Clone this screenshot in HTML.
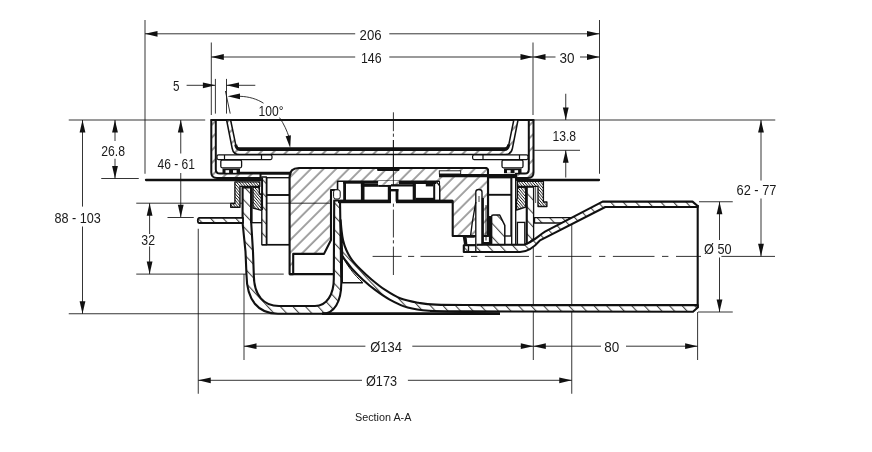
<!DOCTYPE html><html><head><meta charset="utf-8"><title>Section A-A</title><style>html,body{margin:0;padding:0;background:#fff}svg{display:block}text{font-family:"Liberation Sans",sans-serif;fill:#1a1a1a}svg{will-change:transform}</style></head><body>
<svg width="872" height="452" viewBox="0 0 872 452">
<rect width="872" height="452" fill="#fff"/>
<defs>
<pattern id="hb" width="8.9" height="8.9" patternUnits="userSpaceOnUse" patternTransform="rotate(-45) translate(0,6)"><line x1="0" y1="4" x2="8.9" y2="4" stroke="#111" stroke-width="0.78"/></pattern>
<pattern id="hw" width="9.2" height="9.2" patternUnits="userSpaceOnUse" patternTransform="rotate(47)"><line x1="0" y1="4" x2="9.2" y2="4" stroke="#111" stroke-width="0.85"/></pattern>
<pattern id="hf" width="9" height="9" patternUnits="userSpaceOnUse" patternTransform="rotate(-45)"><line x1="0" y1="4" x2="9" y2="4" stroke="#111" stroke-width="0.85"/></pattern>
<pattern id="hd" width="2.1" height="2.1" patternUnits="userSpaceOnUse" patternTransform="rotate(50)"><line x1="0" y1="1" x2="2.1" y2="1" stroke="#111" stroke-width="0.75"/></pattern>
</defs>
<line x1="145" y1="20" x2="145" y2="173.75" stroke="#111" stroke-width="0.85" />
<line x1="599.5" y1="20" x2="599.5" y2="173.75" stroke="#111" stroke-width="0.85" />
<line x1="211.3" y1="42.5" x2="211.3" y2="115" stroke="#111" stroke-width="0.85" />
<line x1="533" y1="42.5" x2="533" y2="115" stroke="#111" stroke-width="0.85" />
<line x1="215.4" y1="78.9" x2="215.4" y2="113.6" stroke="#111" stroke-width="0.85" />
<line x1="226.5" y1="78.9" x2="226.5" y2="113.6" stroke="#111" stroke-width="0.85" />
<line x1="225.4" y1="91" x2="230.2" y2="113.6" stroke="#111" stroke-width="0.85" />
<line x1="145" y1="33.8" x2="355.2" y2="33.8" stroke="#111" stroke-width="0.85" />
<line x1="389.3" y1="33.8" x2="599.5" y2="33.8" stroke="#111" stroke-width="0.85" />
<polygon points="145.00,33.80 157.50,30.90 157.50,36.70" fill="#111"/>
<polygon points="599.50,33.80 587.00,30.90 587.00,36.70" fill="#111"/>
<text x="359.6" y="40" font-size="14.6" textLength="22.0" lengthAdjust="spacingAndGlyphs">206</text>
<line x1="211.3" y1="57" x2="355.2" y2="57" stroke="#111" stroke-width="0.85" />
<line x1="389.3" y1="57" x2="533" y2="57" stroke="#111" stroke-width="0.85" />
<polygon points="211.30,57.00 223.80,54.10 223.80,59.90" fill="#111"/>
<polygon points="533.00,57.00 520.50,54.10 520.50,59.90" fill="#111"/>
<text x="361" y="63" font-size="14.6" textLength="20.6" lengthAdjust="spacingAndGlyphs">146</text>
<line x1="533" y1="57" x2="555.5" y2="57" stroke="#111" stroke-width="0.85" />
<line x1="580" y1="57" x2="599.5" y2="57" stroke="#111" stroke-width="0.85" />
<polygon points="533.00,57.00 545.50,54.10 545.50,59.90" fill="#111"/>
<polygon points="599.50,57.00 587.00,54.10 587.00,59.90" fill="#111"/>
<text x="559.5" y="63" font-size="14.6" textLength="15.0" lengthAdjust="spacingAndGlyphs">30</text>
<line x1="186.6" y1="85.3" x2="215" y2="85.3" stroke="#111" stroke-width="0.85" />
<polygon points="215.40,85.30 202.90,82.40 202.90,88.20" fill="#111"/>
<line x1="226.5" y1="85.3" x2="255.3" y2="85.3" stroke="#111" stroke-width="0.85" />
<polygon points="226.50,85.30 239.00,82.40 239.00,88.20" fill="#111"/>
<text x="172.9" y="91" font-size="14.6" textLength="6.5" lengthAdjust="spacingAndGlyphs">5</text>
<polygon points="227.50,96.30 240.00,93.40 240.00,99.20" fill="#111"/>
<path d="M240,96.3 C249,96.6 257,99 263.5,103.2" stroke="#111" stroke-width="0.85" fill="none" />
<path d="M279.5,117.6 C284,124 287,131 289,137" stroke="#111" stroke-width="0.85" fill="none" />
<polygon points="290.2,148 285.6,136.3 290.9,135.2" fill="#111"/>
<text x="258.5" y="116" font-size="14.6" textLength="25.0" lengthAdjust="spacingAndGlyphs">100°</text>
<line x1="68.75" y1="120" x2="205.2" y2="120" stroke="#111" stroke-width="0.85" />
<line x1="533.75" y1="120" x2="775.25" y2="120" stroke="#111" stroke-width="0.85" />
<line x1="82.5" y1="120" x2="82.5" y2="206.6" stroke="#111" stroke-width="0.85" />
<line x1="82.5" y1="226.5" x2="82.5" y2="313.75" stroke="#111" stroke-width="0.85" />
<polygon points="82.50,120.00 79.60,132.50 85.40,132.50" fill="#111"/>
<polygon points="82.50,313.75 79.60,301.25 85.40,301.25" fill="#111"/>
<text x="54.4" y="222.7" font-size="14.6" textLength="46.4" lengthAdjust="spacingAndGlyphs">88 - 103</text>
<line x1="115" y1="120" x2="115" y2="141" stroke="#111" stroke-width="0.85" />
<line x1="115" y1="158.75" x2="115" y2="178.5" stroke="#111" stroke-width="0.85" />
<polygon points="115.00,120.00 112.10,132.50 117.90,132.50" fill="#111"/>
<polygon points="115.00,178.50 112.10,166.00 117.90,166.00" fill="#111"/>
<line x1="101.25" y1="178.5" x2="138.75" y2="178.5" stroke="#111" stroke-width="0.85" />
<text x="101.2" y="155.6" font-size="14.6" textLength="23.8" lengthAdjust="spacingAndGlyphs">26.8</text>
<line x1="180.75" y1="120" x2="180.75" y2="153.5" stroke="#111" stroke-width="0.85" />
<line x1="180.75" y1="173" x2="180.75" y2="217" stroke="#111" stroke-width="0.85" />
<polygon points="180.75,120.00 177.85,132.50 183.65,132.50" fill="#111"/>
<polygon points="180.75,217.30 177.85,204.80 183.65,204.80" fill="#111"/>
<text x="157.5" y="168.7" font-size="14.6" textLength="37.5" lengthAdjust="spacingAndGlyphs">46 - 61</text>
<line x1="167.5" y1="217.5" x2="193.75" y2="217.5" stroke="#111" stroke-width="0.85" />
<line x1="136.25" y1="203.2" x2="331" y2="203.2" stroke="#111" stroke-width="0.85" />
<line x1="136.25" y1="274.1" x2="283.75" y2="274.1" stroke="#111" stroke-width="0.85" />
<line x1="149.6" y1="203.2" x2="149.6" y2="234" stroke="#111" stroke-width="0.85" />
<line x1="149.6" y1="246.4" x2="149.6" y2="274.1" stroke="#111" stroke-width="0.85" />
<polygon points="149.60,203.20 146.70,215.70 152.50,215.70" fill="#111"/>
<polygon points="149.60,274.10 146.70,261.60 152.50,261.60" fill="#111"/>
<text x="141.3" y="245" font-size="14.6" textLength="13.7" lengthAdjust="spacingAndGlyphs">32</text>
<line x1="68.75" y1="313.75" x2="325" y2="313.75" stroke="#111" stroke-width="0.85" />
<line x1="565.75" y1="93.75" x2="565.75" y2="120" stroke="#111" stroke-width="0.85" />
<polygon points="565.75,120.00 562.85,107.50 568.65,107.50" fill="#111"/>
<line x1="565.75" y1="150.3" x2="565.75" y2="177.5" stroke="#111" stroke-width="0.85" />
<polygon points="565.75,150.30 562.85,162.80 568.65,162.80" fill="#111"/>
<line x1="534.2" y1="150.3" x2="580" y2="150.3" stroke="#111" stroke-width="0.85" />
<text x="552.4" y="141.2" font-size="14.6" textLength="23.7" lengthAdjust="spacingAndGlyphs">13.8</text>
<line x1="761" y1="120" x2="761" y2="180.5" stroke="#111" stroke-width="0.85" />
<line x1="761" y1="198.5" x2="761" y2="256.3" stroke="#111" stroke-width="0.85" />
<polygon points="761.00,120.00 758.10,132.50 763.90,132.50" fill="#111"/>
<polygon points="761.00,256.30 758.10,243.80 763.90,243.80" fill="#111"/>
<text x="736.5" y="194.5" font-size="14.6" textLength="40.0" lengthAdjust="spacingAndGlyphs">62 - 77</text>
<line x1="699" y1="201.75" x2="732.75" y2="201.75" stroke="#111" stroke-width="0.85" />
<line x1="698" y1="312" x2="732.75" y2="312" stroke="#111" stroke-width="0.85" />
<line x1="719.5" y1="201.75" x2="719.5" y2="240" stroke="#111" stroke-width="0.85" />
<line x1="719.5" y1="257.5" x2="719.5" y2="312" stroke="#111" stroke-width="0.85" />
<polygon points="719.50,201.75 716.60,214.25 722.40,214.25" fill="#111"/>
<polygon points="719.50,312.00 716.60,299.50 722.40,299.50" fill="#111"/>
<text x="704" y="253.7" font-size="14.6" textLength="27.5" lengthAdjust="spacingAndGlyphs">Ø 50</text>
<line x1="372.6" y1="256.4" x2="401.6" y2="256.4" stroke="#111" stroke-width="0.85" />
<line x1="408" y1="256.4" x2="414.2" y2="256.4" stroke="#111" stroke-width="0.85" />
<line x1="420.5" y1="256.4" x2="463.4" y2="256.4" stroke="#111" stroke-width="0.85" />
<line x1="471" y1="256.4" x2="477.3" y2="256.4" stroke="#111" stroke-width="0.85" />
<line x1="484.9" y1="256.4" x2="529" y2="256.4" stroke="#111" stroke-width="0.85" />
<line x1="535.3" y1="256.4" x2="541.6" y2="256.4" stroke="#111" stroke-width="0.85" />
<line x1="548" y1="256.4" x2="591.4" y2="256.4" stroke="#111" stroke-width="0.85" />
<line x1="599" y1="256.4" x2="605.3" y2="256.4" stroke="#111" stroke-width="0.85" />
<line x1="612.9" y1="256.4" x2="654.5" y2="256.4" stroke="#111" stroke-width="0.85" />
<line x1="662" y1="256.4" x2="668.4" y2="256.4" stroke="#111" stroke-width="0.85" />
<line x1="676" y1="256.4" x2="701" y2="256.4" stroke="#111" stroke-width="0.85" />
<line x1="721.4" y1="256.4" x2="775" y2="256.4" stroke="#111" stroke-width="0.85" />
<line x1="393.4" y1="112.3" x2="393.4" y2="131.2" stroke="#111" stroke-width="0.85" />
<line x1="393.4" y1="133.6" x2="393.4" y2="136.8" stroke="#111" stroke-width="0.85" />
<line x1="393.4" y1="140" x2="393.4" y2="186" stroke="#111" stroke-width="0.85" />
<line x1="393.4" y1="203.6" x2="393.4" y2="206.8" stroke="#111" stroke-width="0.85" />
<line x1="393.4" y1="209.6" x2="393.4" y2="237.5" stroke="#111" stroke-width="0.85" />
<line x1="393.4" y1="240.2" x2="393.4" y2="243.4" stroke="#111" stroke-width="0.85" />
<line x1="393.4" y1="246.6" x2="393.4" y2="275" stroke="#111" stroke-width="0.85" />
<line x1="198.25" y1="228.75" x2="198.25" y2="393.75" stroke="#111" stroke-width="0.85" />
<line x1="244" y1="274" x2="244" y2="360" stroke="#111" stroke-width="0.85" />
<line x1="533.3" y1="238" x2="533.3" y2="360" stroke="#111" stroke-width="0.85" />
<line x1="571.75" y1="222.5" x2="571.75" y2="393.75" stroke="#111" stroke-width="0.85" />
<line x1="697.6" y1="312" x2="697.6" y2="360" stroke="#111" stroke-width="0.85" />
<line x1="244" y1="346.2" x2="365.4" y2="346.2" stroke="#111" stroke-width="0.85" />
<line x1="412.3" y1="346.2" x2="533.3" y2="346.2" stroke="#111" stroke-width="0.85" />
<polygon points="244.00,346.20 256.50,343.30 256.50,349.10" fill="#111"/>
<polygon points="533.30,346.20 520.80,343.30 520.80,349.10" fill="#111"/>
<text x="370.3" y="352" font-size="14.6" textLength="31.6" lengthAdjust="spacingAndGlyphs">Ø134</text>
<line x1="533.3" y1="346.2" x2="601" y2="346.2" stroke="#111" stroke-width="0.85" />
<line x1="626" y1="346.2" x2="697.6" y2="346.2" stroke="#111" stroke-width="0.85" />
<polygon points="533.30,346.20 545.80,343.30 545.80,349.10" fill="#111"/>
<polygon points="697.60,346.20 685.10,343.30 685.10,349.10" fill="#111"/>
<text x="604.3" y="352.4" font-size="14.6" textLength="15.0" lengthAdjust="spacingAndGlyphs">80</text>
<line x1="198.25" y1="380.3" x2="362" y2="380.3" stroke="#111" stroke-width="0.85" />
<line x1="407.9" y1="380.3" x2="571.75" y2="380.3" stroke="#111" stroke-width="0.85" />
<polygon points="198.25,380.30 210.75,377.40 210.75,383.20" fill="#111"/>
<polygon points="571.75,380.30 559.25,377.40 559.25,383.20" fill="#111"/>
<text x="366" y="385.7" font-size="14.6" textLength="31" lengthAdjust="spacingAndGlyphs">Ø173</text>
<text x="355" y="420.5" font-size="11.7" textLength="56.4" lengthAdjust="spacingAndGlyphs">Section A-A</text>
<line x1="146" y1="180" x2="262" y2="180" stroke="#111" stroke-width="2.3" stroke-linecap="round"/>
<line x1="517" y1="180" x2="599" y2="180" stroke="#111" stroke-width="2.3" stroke-linecap="round"/>
<path d="M242.6,187.4 L242.6,223 L245.5,251.7 L246.5,275 C246.8,300 258,313.7 278,313.7 L322.5,313.7 C334,313.7 341.3,302 341.3,283 L340,200.5 L334.2,200.5 L333.8,279 C333.8,294 327,306 315,306 L279,306 C264,306 254,296 253.8,275 L253,251.7 L251.2,222.7 L251.2,187.4 Z" fill="#fff" stroke="none"/>
<path d="M242.6,187.4 L242.6,223 L245.5,251.7 L246.5,275 C246.8,300 258,313.7 278,313.7 L322.5,313.7 C334,313.7 341.3,302 341.3,283 L340,200.5 L334.2,200.5 L333.8,279 C333.8,294 327,306 315,306 L279,306 C264,306 254,296 253.8,275 L253,251.7 L251.2,222.7 L251.2,187.4 Z" fill="url(#hw)" stroke="#111" stroke-width="2.1" stroke-linejoin="round"/>
<line x1="251.2" y1="222.7" x2="262" y2="222.7" stroke="#111" stroke-width="1.35" />
<path d="M340.6,220 C340.75,221.67 341.10,226.67 341.5,230 C341.90,233.33 342.20,236.67 343,240 C343.80,243.33 344.82,246.70 346.3,250 C347.78,253.30 349.47,256.50 351.9,259.8 C354.33,263.10 357.58,266.48 360.9,269.8 C364.22,273.12 367.82,276.38 371.8,279.7 C375.78,283.02 379.98,286.55 384.8,289.7 C389.62,292.85 395.08,296.42 400.7,298.6 C406.32,300.78 412.62,301.80 418.5,302.8 C424.38,303.80 425.75,304.22 436,304.6 C446.25,304.98 472.67,305.02 480,305.1 L697.7,305 L697.7,307.5 L693,311.7 L470,311.4 L470,311.4 C463.17,311.30 439.38,311.43 429,310.8 C418.62,310.17 414.25,309.47 407.7,307.6 C401.15,305.73 395.18,302.58 389.7,299.6 C384.22,296.62 379.27,293.02 374.8,289.7 C370.33,286.38 366.55,283.02 362.9,279.7 C359.25,276.38 355.88,273.12 352.9,269.8 C349.92,266.48 346.77,262.13 345,259.8 C343.23,257.47 342.75,256.47 342.3,255.8 Z" fill="#fff" stroke="none"/>
<path d="M340.6,220 C340.75,221.67 341.10,226.67 341.5,230 C341.90,233.33 342.20,236.67 343,240 C343.80,243.33 344.82,246.70 346.3,250 C347.78,253.30 349.47,256.50 351.9,259.8 C354.33,263.10 357.58,266.48 360.9,269.8 C364.22,273.12 367.82,276.38 371.8,279.7 C375.78,283.02 379.98,286.55 384.8,289.7 C389.62,292.85 395.08,296.42 400.7,298.6 C406.32,300.78 412.62,301.80 418.5,302.8 C424.38,303.80 425.75,304.22 436,304.6 C446.25,304.98 472.67,305.02 480,305.1 L697.7,305 L697.7,307.5 L693,311.7 L470,311.4 L470,311.4 C463.17,311.30 439.38,311.43 429,310.8 C418.62,310.17 414.25,309.47 407.7,307.6 C401.15,305.73 395.18,302.58 389.7,299.6 C384.22,296.62 379.27,293.02 374.8,289.7 C370.33,286.38 366.55,283.02 362.9,279.7 C359.25,276.38 355.88,273.12 352.9,269.8 C349.92,266.48 346.77,262.13 345,259.8 C343.23,257.47 342.75,256.47 342.3,255.8 Z" fill="url(#hw)" stroke="#111" stroke-width="2.1" stroke-linejoin="round"/>
<line x1="322" y1="313.6" x2="500" y2="313.6" stroke="#111" stroke-width="2.6" />
<path d="M430,311.5 L500,313.4" stroke="#111" stroke-width="1.2" fill="none" />
<path d="M342.3,255.8 L342.3,282.7 L362.9,282.7" stroke="#111" stroke-width="1.35" fill="none" />
<path d="M342.3,255.8 C346,264 354,275 362.9,282.7" stroke="#111" stroke-width="1.0" fill="none" />
<path d="M534.5,217.6 L571.6,217.6 L562,223 L534.5,223 Z" fill="#fff" stroke="none"/>
<path d="M534.5,217.6 L571.6,217.6 L562,223 L534.5,223 Z" fill="url(#hw)" stroke="#111" stroke-width="1.35" stroke-linejoin="round"/>
<path d="M526.7,187 L533.6,187 L533.6,238.5 L526.7,244.7 Z" fill="#fff" stroke="none"/>
<path d="M526.7,187 L533.6,187 L533.6,238.5 L526.7,244.7 Z" fill="url(#hw)" stroke="#111" stroke-width="1.35" stroke-linejoin="round"/>
<path d="M463.8,245.2 L463.8,252 L520,252 C528,252 533.5,248 540,240.4 L605.3,207 L697.7,207 L697.7,206 L692.5,201.6 L602.6,201.6 L545,231.6 C538,236 533,242 524,244.7 L476.8,244.7 L476.8,245.2 Z" fill="#fff" stroke="none"/>
<path d="M463.8,245.2 L463.8,252 L520,252 C528,252 533.5,248 540,240.4 L605.3,207 L697.7,207 L697.7,206 L692.5,201.6 L602.6,201.6 L545,231.6 C538,236 533,242 524,244.7 L476.8,244.7 L476.8,245.2 Z" fill="url(#hw)" stroke="#111" stroke-width="2.1" stroke-linejoin="round"/>
<line x1="697.7" y1="205" x2="697.7" y2="308" stroke="#111" stroke-width="2.1" />
<path d="M199.5,217.8 L243,217.8 L243,223 L199.5,223 Q197.8,223 197.8,220.4 Q197.8,217.8 199.5,217.8 Z" fill="#fff" stroke="none"/>
<path d="M199.5,217.8 L243,217.8 L243,223 L199.5,223 Q197.8,223 197.8,220.4 Q197.8,217.8 199.5,217.8 Z" fill="url(#hw)" stroke="#111" stroke-width="1.8" stroke-linejoin="round"/>
<rect x="266.8" y="177.7" width="22.8" height="66.9" rx="0" stroke="#111" stroke-width="1.35" fill="#fff" />
<line x1="266.8" y1="195" x2="289.6" y2="195" stroke="#111" stroke-width="1.9" />
<rect x="488.4" y="177.7" width="22.6" height="58.3" rx="0" stroke="#111" stroke-width="1.35" fill="#fff" />
<line x1="488.4" y1="194.8" x2="511" y2="194.8" stroke="#111" stroke-width="1.9" />
<path d="M261.8,177 L266.4,177 L266.4,244.8 L261.8,244.8 Z" fill="#fff" stroke="none"/>
<path d="M261.8,177 L266.4,177 L266.4,244.8 L261.8,244.8 Z" fill="url(#hw)" stroke="#111" stroke-width="1.35" stroke-linejoin="round"/>
<line x1="262" y1="244.8" x2="290" y2="244.8" stroke="#111" stroke-width="1.35" />
<path d="M289.6,274.1 L289.6,177 Q289.6,168 299,168 L486.5,168 L488,169.5 L488,236 L452.7,236 L452.7,201 L439,201 L439,181.6 L337.8,181.6 L337.8,190 L331,190 L331,240 L324,253.9 L293.2,253.9 L293.2,274.1 Z" fill="#fff" stroke="none"/>
<path d="M289.6,274.1 L289.6,177 Q289.6,168 299,168 L486.5,168 L488,169.5 L488,236 L452.7,236 L452.7,201 L439,201 L439,181.6 L337.8,181.6 L337.8,190 L331,190 L331,240 L324,253.9 L293.2,253.9 L293.2,274.1 Z" fill="url(#hb)" stroke="#111" stroke-width="2.1" stroke-linejoin="round"/>
<line x1="289.6" y1="274.1" x2="334.2" y2="274.1" stroke="#111" stroke-width="2.1" />
<rect x="377" y="168.5" width="22.5" height="2.6" rx="1.3" fill="#111"/>
<rect x="439.3" y="170.8" width="21.4" height="3.2" rx="0" stroke="#111" stroke-width="0.9" fill="#fff" />
<line x1="439" y1="175.6" x2="517" y2="175.6" stroke="#111" stroke-width="3.2" />
<line x1="239.3" y1="173.3" x2="291.3" y2="173.3" stroke="#111" stroke-width="3.0" />
<rect x="338.4" y="182" width="100.6" height="19" fill="#fff"/>
<rect x="338" y="199.6" width="53" height="3.6" fill="#111"/>
<rect x="396" y="199.6" width="56.7" height="3.6" fill="#111"/>
<rect x="343.2" y="181.2" width="35.0" height="2.5" fill="#111"/>
<rect x="343.2" y="181.2" width="2.8" height="18.8" fill="#111"/>
<rect x="360.9" y="181.2" width="3.6" height="18.8" fill="#111"/>
<rect x="360.9" y="183.7" width="17.3" height="3.1" fill="#111"/>
<rect x="378.2" y="184.8" width="12.8" height="2.1" fill="#111"/>
<rect x="387.8" y="184.8" width="3.2" height="18.2" fill="#111"/>
<rect x="391" y="189" width="7.4" height="2.4" fill="#111"/>
<rect x="395.6" y="189" width="2.8" height="12.6" fill="#111"/>
<rect x="378.2" y="181" width="21" height="3.8" fill="#fff"/><rect x="378.2" y="181" width="21" height="3.8" fill="url(#hb)"/>
<rect x="391" y="184.2" width="22" height="2.3" fill="#111"/>
<rect x="399" y="181.2" width="37.4" height="2.8" fill="#111"/>
<rect x="412.7" y="181.2" width="3.2" height="18.8" fill="#111"/>
<rect x="425.8" y="184" width="7.4" height="2.4" fill="#111"/>
<rect x="433.2" y="181.2" width="2.0" height="17.0" fill="#111"/>
<rect x="415.9" y="197.8" width="19.3" height="2.2" fill="#111"/>
<path d="M436.4,181.6 L439.8,186 L439.8,200" stroke="#111" stroke-width="1.3" fill="none" />
<rect x="333.6" y="189.8" width="6.6" height="9.2" rx="2.2" stroke="#111" stroke-width="1.0" fill="#fff" />
<path d="M475.8,252 L475.8,192 Q475.8,189.5 478.9,189.5 Q482,189.5 482,192 L482,244.5 L476.8,244.5" stroke="#111" stroke-width="1.35" fill="#fff" />
<path d="M475.8,202 L472.2,223 L470.5,236.4" stroke="#111" stroke-width="1.35" fill="none" />
<line x1="479" y1="196" x2="479" y2="202" stroke="#111" stroke-width="0.8" />
<path d="M482.8,198 L482.8,243.2 L490,243.2 L490,216" stroke="#111" stroke-width="2.2" fill="none" />
<line x1="486" y1="205" x2="486" y2="240.5" stroke="#111" stroke-width="0.9" />
<path d="M491.6,244.4 L491.6,216.5 Q491.6,215 493.2,215 L499.7,215 L504.8,225.4 L504.8,244.4 Z" fill="#fff" stroke="none"/>
<path d="M491.6,244.4 L491.6,216.5 Q491.6,215 493.2,215 L499.7,215 L504.8,225.4 L504.8,244.4 Z" fill="url(#hw)" stroke="#111" stroke-width="1.5" stroke-linejoin="round"/>
<rect x="511.7" y="177.5" width="4.0" height="66.9" rx="0" stroke="#111" stroke-width="1.35" fill="#fff" />
<rect x="517.4" y="222.4" width="7.4" height="22.0" rx="0" stroke="#111" stroke-width="1.35" fill="#fff" />
<line x1="526.7" y1="187" x2="526.7" y2="244.4" stroke="#111" stroke-width="2.0" />
<polygon points="462.8,237 466.6,237 467.4,244.4 464,244.4" fill="#111"/>
<path d="M466.6,237 L474.7,237 M464,245 L475.8,245 M468.5,245.2 L468.5,252" stroke="#111" stroke-width="1.35" fill="none" />
<path d="M234.9,181.8 L259.8,181.8 L259.8,186.4 L240,186.4 L240,203.5 L240,207.2 L230.7,207.2 L230.7,203.5 L234.9,203.5 Z" fill="#fff" stroke="none"/>
<path d="M234.9,181.8 L259.8,181.8 L259.8,186.4 L240,186.4 L240,203.5 L240,207.2 L230.7,207.2 L230.7,203.5 L234.9,203.5 Z" fill="url(#hd)" stroke="#111" stroke-width="1.35" stroke-linejoin="round"/>
<path d="M253,187.4 L259.4,187.4 L259.4,194 L261.4,194 L261.4,210.3 L253,208 Z" fill="#fff" stroke="none"/>
<path d="M253,187.4 L259.4,187.4 L259.4,194 L261.4,194 L261.4,210.3 L253,208 Z" fill="url(#hd)" stroke="#111" stroke-width="1.35" stroke-linejoin="round"/>
<line x1="251.3" y1="187" x2="251.3" y2="223" stroke="#111" stroke-width="2.4" />
<line x1="262.4" y1="178" x2="262.4" y2="210" stroke="#111" stroke-width="1.3" />
<path d="M517.4,181.4 L543.4,181.4 L543.4,202 L546.9,202 L546.9,206.5 L538,206.5 L538,186.4 L517.4,186.4 Z" fill="#fff" stroke="none"/>
<path d="M517.4,181.4 L543.4,181.4 L543.4,202 L546.9,202 L546.9,206.5 L538,206.5 L538,186.4 L517.4,186.4 Z" fill="url(#hd)" stroke="#111" stroke-width="1.35" stroke-linejoin="round"/>
<path d="M517.4,187.4 L525.7,187.4 L525.7,207 L516.5,210 L516.5,200 L517.4,198 Z" fill="#fff" stroke="none"/>
<path d="M517.4,187.4 L525.7,187.4 L525.7,207 L516.5,210 L516.5,200 L517.4,198 Z" fill="url(#hd)" stroke="#111" stroke-width="1.35" stroke-linejoin="round"/>
<line x1="535.6" y1="187" x2="535.6" y2="203" stroke="#444" stroke-width="0.9" />
<path d="M211.3,120 L211.3,172.5 Q211.3,178 217,178 L260.5,178 L260.5,173.6 L220,173.6 Q215.8,173.6 215.8,169.5 L215.8,120 Z" fill="#fff" stroke="none"/>
<path d="M211.3,120 L211.3,172.5 Q211.3,178 217,178 L260.5,178 L260.5,173.6 L220,173.6 Q215.8,173.6 215.8,169.5 L215.8,120 Z" fill="url(#hf)" stroke="#111" stroke-width="2.0" stroke-linejoin="round"/>
<path d="M533.5,120 L533.5,172.5 Q533.5,178 528,178 L516,178 L516,173.6 L525,173.6 Q528.8,173.6 528.8,169.5 L528.8,120 Z" fill="#fff" stroke="none"/>
<path d="M533.5,120 L533.5,172.5 Q533.5,178 528,178 L516,178 L516,173.6 L525,173.6 Q528.8,173.6 528.8,169.5 L528.8,120 Z" fill="url(#hf)" stroke="#111" stroke-width="2.0" stroke-linejoin="round"/>
<line x1="210.6" y1="120" x2="534.2" y2="120" stroke="#111" stroke-width="2.0" />
<path d="M226.6,120 L232.2,148.5 Q233.4,154.6 239.4,154.6 L505,154.6 Q511.2,154.6 512.4,148.5 L518,120 L513.8,120 L508.8,144.6 Q508,148 504.5,148 L239.9,148 Q236.4,148 235.7,144.6 L230.6,120 Z" fill="#fff" stroke="none"/>
<path d="M226.6,120 L232.2,148.5 Q233.4,154.6 239.4,154.6 L505,154.6 Q511.2,154.6 512.4,148.5 L518,120 L513.8,120 L508.8,144.6 Q508,148 504.5,148 L239.9,148 Q236.4,148 235.7,144.6 L230.6,120 Z" fill="url(#hf)" stroke="#111" stroke-width="1.5" stroke-linejoin="round"/>
<path d="M235.7,144.6 Q236.4,149.4 239.9,149.4 L504.5,149.4 Q508,149.4 508.8,144.6" stroke="#111" stroke-width="3.0" fill="none" />
<rect x="217" y="154.9" width="55" height="4.7" rx="1.5" stroke="#111" stroke-width="1.2" fill="#fff" />
<line x1="224.5" y1="155" x2="224.5" y2="159.6" stroke="#111" stroke-width="1.2" />
<line x1="261.5" y1="155" x2="261.5" y2="159.6" stroke="#111" stroke-width="1.2" />
<rect x="472.6" y="154.9" width="55.4" height="4.7" rx="1.5" stroke="#111" stroke-width="1.2" fill="#fff" />
<line x1="483" y1="155" x2="483" y2="159.6" stroke="#111" stroke-width="1.2" />
<line x1="519.5" y1="155" x2="519.5" y2="159.6" stroke="#111" stroke-width="1.2" />
<rect x="220.8" y="160" width="20.8" height="7.8" rx="1.5" stroke="#111" stroke-width="1.3" fill="#fff" />
<rect x="222.5" y="168.6" width="17.5" height="4.6" rx="0" stroke="#111" stroke-width="0" fill="#111" />
<rect x="225.5" y="170.2" width="3.6" height="2.6" fill="#fff"/><rect x="233" y="170.2" width="3.6" height="2.6" fill="#fff"/>
<rect x="502" y="160" width="21" height="7.8" rx="1.5" stroke="#111" stroke-width="1.3" fill="#fff" />
<rect x="504" y="168.6" width="17.5" height="4.6" rx="0" stroke="#111" stroke-width="0" fill="#111" />
<rect x="507" y="170.2" width="3.6" height="2.6" fill="#fff"/><rect x="514.5" y="170.2" width="3.6" height="2.6" fill="#fff"/>
<line x1="393.4" y1="140" x2="393.4" y2="186" stroke="#111" stroke-width="0.85" />
<line x1="289.6" y1="203.2" x2="331" y2="203.2" stroke="#111" stroke-width="0.85" />
<line x1="266.8" y1="203.2" x2="289.6" y2="203.2" stroke="#111" stroke-width="0.85" />
</svg></body></html>
